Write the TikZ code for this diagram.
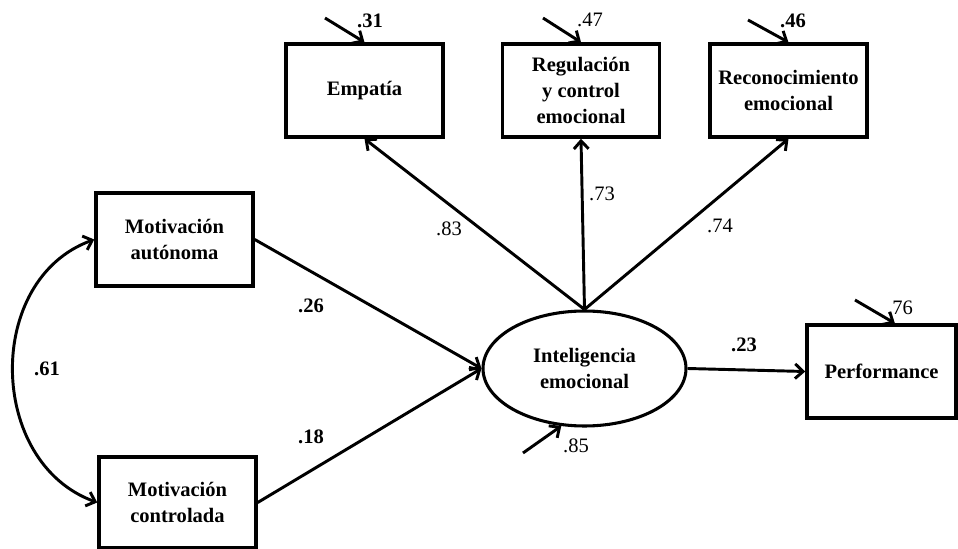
\documentclass[tikz,border=0pt]{standalone}
\usepackage{fontspec}
\setmainfont{Liberation Serif}
\usetikzlibrary{shapes.geometric,arrows.meta}
\newcommand{\diagfont}{\fontsize{15.4}{19.5}\selectfont}
\tikzset{
  varbox/.style={draw, line width=2.6pt, minimum width=117.75pt, minimum height=69.75pt,
    align=center, inner sep=0pt, font=\bfseries\diagfont},
  latent/.style={ellipse, draw, line width=2.3pt, minimum width=152.25pt, minimum height=86.25pt,
    align=center, inner sep=0pt, font=\bfseries\diagfont},
  link/.style={->, line width=2.2pt},
  coef/.style={inner sep=0pt, font=\diagfont},
  coefb/.style={inner sep=0pt, font=\bfseries\diagfont}
}
\begin{document}
\begin{tikzpicture}[x=0.75pt,y=-0.75pt,>={Straight Barb[length=6pt,width=11pt]}]
\useasboundingbox (0,0) rectangle (958,549);
% Variablen
\node[varbox] (emp) at (364.5,90.5) {Empatía};
\node[varbox] (reg) at (581,90.5) {Regulación\\y control\\emocional};
\node[varbox] (rec) at (788.5,90.5) {Reconocimiento\\emocional};
\node[varbox] (auto) at (174.5,239.5) {Motivación\\autónoma};
\node[varbox, minimum height=68.25pt] (contr) at (177.5,502.5) {Motivación\\controlada};
\node[latent] (ie) at (584.5,368.5) {Inteligencia\\emocional};
\node[varbox, minimum width=111.75pt] (perf) at (881.5,371.5) {Performance};
% Pfade
\draw[link] (auto.east) -- (ie.west);
\draw[link] (contr.east) -- (ie.west);
\draw[link] (ie.north) -- (emp.south);
\draw[link] (ie.north) -- (reg.south);
\draw[link] (ie.north) -- (rec.south);
\draw[link] (ie.east) -- (perf.west);
\draw[<->, line width=2.2pt] (auto.west) .. controls +(-110,40) and +(-110,-40) .. (contr.west);
% Fehlerterme
\coordinate (uemp) at (325,18);
\coordinate (ureg) at (543,18);
\coordinate (urec) at (748,20);
\coordinate (uperf) at (855,300);
\coordinate (uie) at (523,453);
\draw[link] (uemp) -- (emp.north);
\draw[link] (ureg) -- (reg.north);
\draw[link] (urec) -- (rec.north);
\draw[link] (uperf) -- ([xshift=10pt]perf.north);
\draw[link] (uie) -- (ie.-112);
% Koeffizienten
\node[coefb] (l31) at (370,21) {.31};
\node[coef] (l47) at (590,20) {.47};
\node[coefb] (l46) at (793,21) {.46};
\node[coef] (l76) at (900,308) {.76};
\node[coef] (l83) at (449,229) {.83};
\node[coef] (l73) at (602,194) {.73};
\node[coef] (l74) at (720,226) {.74};
\node[coefb] (l26) at (311,306) {.26};
\node[coefb] (l18) at (311,437) {.18};
\node[coefb] (l61) at (47,369) {.61};
\node[coefb] (l23) at (744,345) {.23};
\node[coef] (l85) at (576,446) {.85};
\end{tikzpicture}
\end{document}
